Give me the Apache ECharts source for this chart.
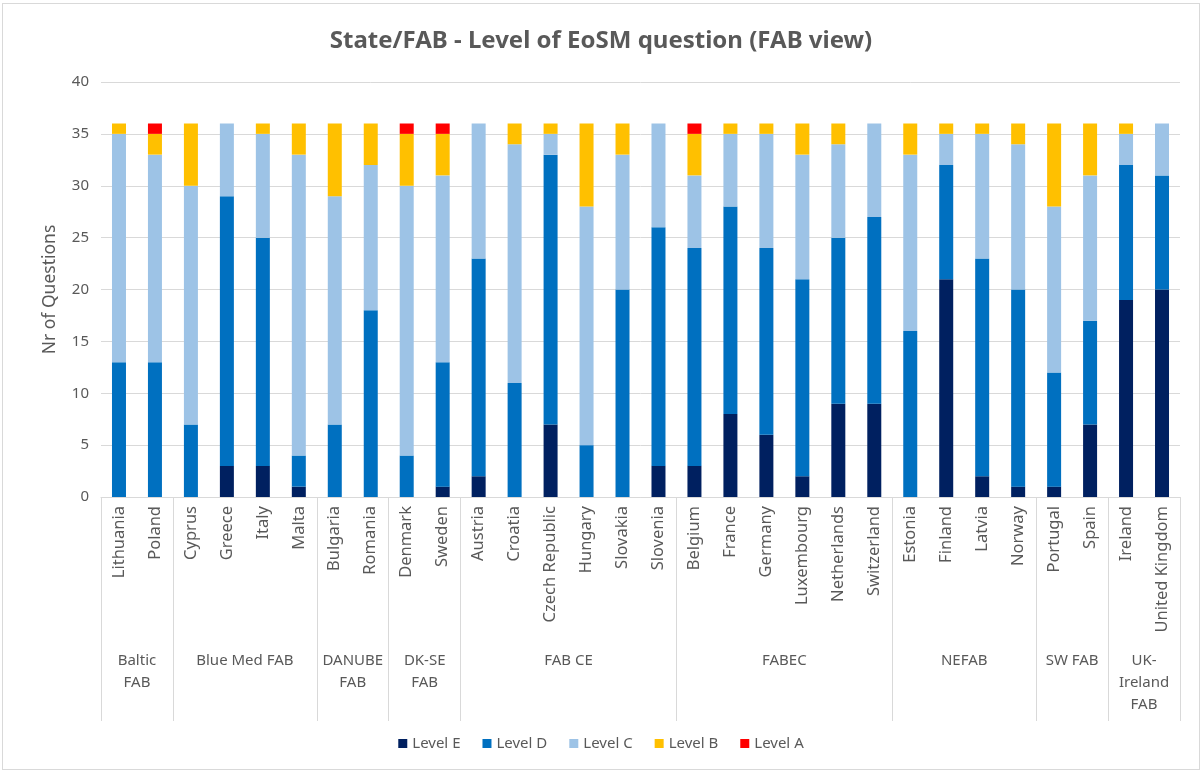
<!DOCTYPE html>
<html>
<head>
<meta charset="utf-8">
<script src="https://cdn.jsdelivr.net/npm/echarts@6/dist/echarts.min.js"></script>
<style>
body { margin: 0; background: #fff; }
#chart { position: absolute; left: 2px; top: 3px; width: 1198px; height: 767px; box-sizing: border-box; border: 1px solid #d9d9d9; }
</style>
</head>
<body>
<div id="chart"></div>
<script>
var countries = ['Lithuania','Poland','Cyprus','Greece','Italy','Malta','Bulgaria','Romania','Denmark','Sweden',
	'Austria','Croatia','Czech Republic','Hungary','Slovakia','Slovenia','Belgium','France','Germany','Luxembourg',
	'Netherlands','Switzerland','Estonia','Finland','Latvia','Norway','Portugal','Spain','Ireland','United Kingdom'];
var groups = ['Baltic\nFAB','Blue Med FAB','DANUBE\nFAB','DK-SE\nFAB','FAB CE','FABEC','NEFAB','SW FAB','UK-\nIreland\nFAB'];
var groupSizes = [2, 4, 2, 2, 6, 6, 4, 2, 2];
var levelE = [0,0,0,3,3,1,0,0,0,1, 2,0,7,0,0,3,3,8,6,2, 9,9,0,21,2,1,1,7,19,20];
var levelD = [13,13,7,26,22,3,7,18,4,12, 21,11,26,5,20,23,21,20,18,19, 16,18,16,11,21,19,11,10,13,11];
var levelC = [22,20,23,7,10,29,22,14,26,18, 13,23,2,23,13,10,7,7,11,12, 9,9,17,3,12,14,16,14,3,5];
var levelB = [1,2,6,0,1,3,7,4,5,4, 0,2,1,8,3,0,4,1,1,3, 2,0,3,1,1,2,8,5,1,0];
var levelA = [0,1,0,0,0,0,0,0,1,1, 0,0,0,0,0,0,1,0,0,0, 0,0,0,0,0,0,0,0,0,0];

// group boundaries and centres on a 0..30 scale
var bounds = [0], mids = [];
groupSizes.forEach(function(n){
	var start = bounds[bounds.length - 1];
	mids.push(start + n / 2);
	bounds.push(start + n);
});

var chart = echarts.init(document.getElementById('chart'));
var textColor = '#595959';
var font = 'Noto Sans';

function bar(name, data, color){
	return {
		name: name,
		type: 'bar',
		stack: 'total',
		barWidth: 14,
		data: data,
		itemStyle: { color: color }
	};
}

var option = {
	animation: false,
	textStyle: { fontFamily: font },
	title: {
		text: 'State/FAB - Level of EoSM question (FAB view)',
		left: 'center',
		top: 20,
		textStyle: { color: textColor, fontSize: 24, fontWeight: 'bold', fontFamily: font }
	},
	legend: {
		bottom: 13,
		left: 'center',
		itemWidth: 9,
		itemHeight: 9,
		itemGap: 22,
		icon: 'rect',
		textStyle: { color: textColor, fontSize: 15 },
		data: ['Level E','Level D','Level C','Level B','Level A']
	},
	grid: { left: 98, right: 19, top: 78, bottom: 272 },
	xAxis: [
		{
			type: 'category',
			data: countries,
			axisLine: { lineStyle: { color: '#d9d9d9' } },
			axisTick: { show: false },
			axisLabel: { rotate: 90, color: textColor, fontSize: 16.5, margin: 9, interval: 0 }
		},
		{
			type: 'value',
			position: 'bottom',
			min: 0,
			max: 30,
			axisLine: { show: false },
			splitLine: { show: false },
			axisTick: { show: true, customValues: bounds, length: 224, lineStyle: { color: '#d9d9d9' } },
			axisLabel: {
				customValues: mids,
				margin: 153,
				color: textColor,
				fontSize: 15,
				lineHeight: 22,
				formatter: function(v){ return groups[mids.indexOf(v)]; }
			}
		}
	],
	yAxis: {
		type: 'value',
		min: 0,
		max: 40,
		interval: 5,
		name: 'Nr of Questions',
		nameLocation: 'middle',
		nameGap: 42,
		nameTextStyle: { color: textColor, fontSize: 17.5 },
		axisLine: { show: false },
		axisTick: { show: false },
		axisLabel: { color: textColor, fontSize: 15, margin: 12 },
		splitLine: { lineStyle: { color: '#d9d9d9' } }
	},
	series: [
		bar('Level E', levelE, '#002060'),
		bar('Level D', levelD, '#0070c0'),
		bar('Level C', levelC, '#9dc3e6'),
		bar('Level B', levelB, '#ffc000'),
		bar('Level A', levelA, '#ff0000')
	]
};
chart.setOption(option);
</script>
</body>
</html>
